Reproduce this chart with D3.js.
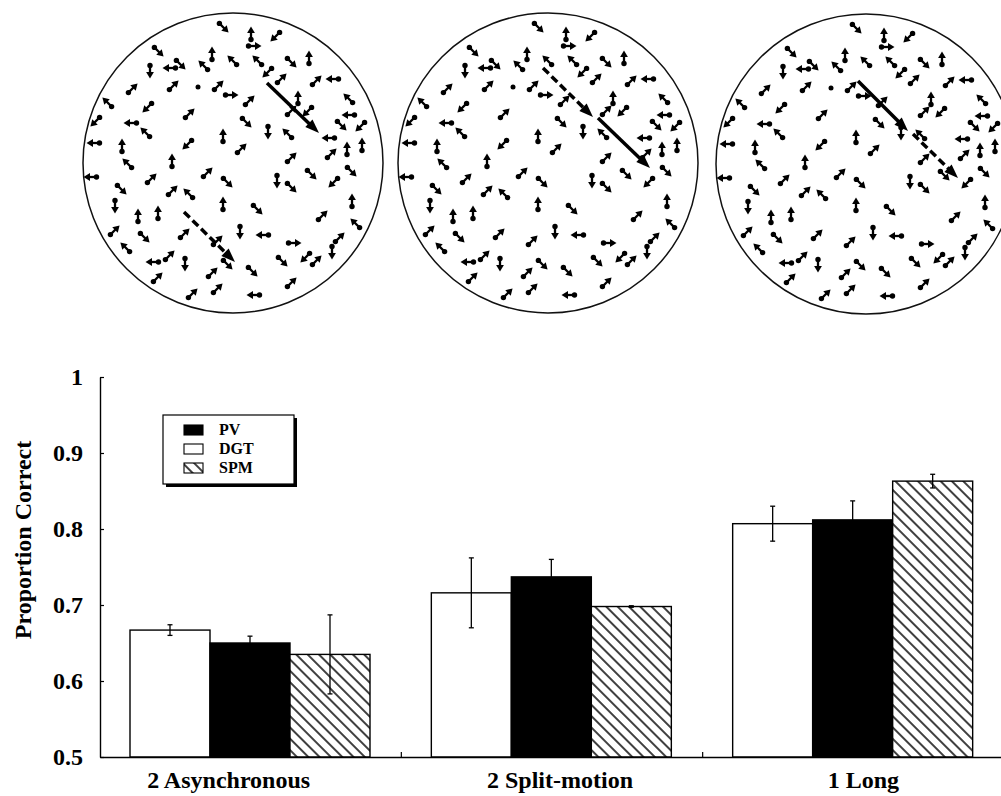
<!DOCTYPE html>
<html><head><meta charset="utf-8">
<script src="https://cdn.jsdelivr.net/npm/d3@7"></script>
<style>html,body{margin:0;padding:0;background:#fff;overflow:hidden}</style>
</head><body>
<svg id="chart" width="1001" height="796" xmlns="http://www.w3.org/2000/svg"></svg>
<script>
// ---------------- data ----------------
const categories = ["2 Asynchronous", "2 Split-motion", "1 Long"];
const barSeries = ["DGT", "PV", "SPM"];      // order of bars inside each group
const legendSeries = ["PV", "DGT", "SPM"];   // order in the legend
const pvValues  = [0.650, 0.737, 0.812];
const dgtValues = [0.667, 0.716, 0.807];
const spmValues = [0.635, 0.698, 0.863];
const pvErrors  = [0.009, 0.023, 0.025];
const dgtErrors = [0.007, 0.046, 0.023];
const spmErrors = [0.052, 0.001, 0.009];
const yTicks = [0.5, 0.6, 0.7, 0.8, 0.9, 1];
const yTickLabels = ["0.5", "0.6", "0.7", "0.8", "0.9", "1"];
const yTitle = "Proportion Correct";

// stimulus display: small dot-arrows [x, y, direction], circle units (radius 150)
const fieldArrows = [
  [-9,-135,"SE"],[18,-130,"N"],[42,-126,"SW"],[22,-117,"E"],[-74,-111,"SE"],[-21,-110,"N"],
  [-1,-103,"NW"],[24,-103,"NW"],[59,-100,"SE"],[76,-106,"N"],[-83,-91,"S"],[-64,-95,"W"],
  [-52,-98,"SE"],[-30,-98,"NW"],[34,-90,"SW"],[49,-85,"NE"],[84,-83,"NE"],[99,-84,"W"],
  [-100,-75,"NE"],[-59,-78,"NE"],[-35,-76,"dot"],[-14,-78,"NE"],[-1,-68,"E"],[17,-63,"NE"],
  [65,-66,"N"],[115,-65,"NW"],[-126,-61,"NW"],[-86,-55,"SW"],[-43,-50,"NE"],[59,-53,"NE"],
  [74,-51,"SW"],[115,-48,"W"],[-138,-41,"SW"],[-103,-40,"W"],[-88,-31,"NW"],[14,-40,"SE"],
  [35,-30,"S"],[54,-30,"NW"],[109,-37,"SE"],[127,-36,"SW"],[-140,-20,"W"],[-111,-18,"N"],
  [-46,-18,"SW"],[-10,-28,"N"],[9,-15,"NE"],[95,-25,"W"],[114,-15,"N"],[129,-19,"N"],
  [-61,-3,"N"],[-106,0,"NW"],[59,-6,"NE"],[99,-10,"NE"],[-143,14,"W"],[-81,15,"NE"],
  [-25,9,"NE"],[-5,20,"SE"],[44,19,"S"],[59,25,"SE"],[79,12,"SE"],[100,20,"SW"],
  [119,9,"SE"],[-111,27,"SE"],[-60,27,"NE"],[-45,30,"NW"],[-118,44,"S"],[-95,52,"N"],
  [-75,49,"N"],[-10,40,"N"],[25,47,"SE"],[90,52,"NE"],[119,37,"N"],[-118,67,"NE"],
  [-108,84,"NW"],[-88,75,"SE"],[-48,70,"NE"],[-15,77,"NE"],[7,70,"S"],[29,72,"W"],
  [62,80,"E"],[107,74,"NE"],[122,60,"NW"],[-81,99,"W"],[-63,92,"NE"],[-48,102,"S"],
  [-20,109,"NE"],[-5,102,"SE"],[20,109,"SE"],[50,99,"SE"],[72,95,"SW"],[84,97,"NE"],
  [99,90,"S"],[-75,114,"NE"],[-40,130,"NE"],[-15,125,"NE"],[20,132,"W"],[59,119,"NE"]
];
// long target arrows per panel: [x1, y1, x2, y2, dashed]
const panel1Targets = [[34,-80,86,-30,false],[-49,49,2,99,true]];
const panel2Targets = [[-5,-95,45,-46,true],[50,-45,102,5,false]];
const panel3Targets = [[-8,-83,42,-33,false],[47,-30,92,14,true]];

// ---------------- drawing ----------------
const svg = d3.select("#chart");
const FONT = "'Liberation Serif','Times New Roman',serif";

const defs = svg.append("defs");
defs.append("pattern").attr("id","hatch").attr("patternUnits","userSpaceOnUse")
  .attr("width",8).attr("height",8).attr("patternTransform","rotate(-45)")
  .call(p => {
    p.append("rect").attr("width",8).attr("height",8).attr("fill","#fff");
    p.append("line").attr("x1",4).attr("y1",-1).attr("x2",4).attr("y2",9)
      .attr("stroke","#000").attr("stroke-width",1.5);
  });

// ---- stimulus panels ----
const panels = [
  {cx: 233, cy: 163, targets: panel1Targets},
  {cx: 548, cy: 163, targets: panel2Targets},
  {cx: 866, cy: 164, targets: panel3Targets}
];
const R = 150;
const dirAngle = {E:0, SE:45, S:90, SW:135, W:180, NW:225, N:270, NE:315};

panels.forEach(pn => {
  const sx = d3.scaleLinear().domain([-150,150]).range([pn.cx - R, pn.cx + R]);
  const sy = d3.scaleLinear().domain([-150,150]).range([pn.cy - R, pn.cy + R]);
  const g = svg.append("g");
  g.append("circle").attr("cx", sx(0)).attr("cy", sy(0)).attr("r", R)
    .attr("fill","none").attr("stroke","#111").attr("stroke-width",1.5);

  fieldArrows.forEach(([x, y, dir]) => {
    const cx = sx(x), cy = sy(y);
    if (dir === "dot") {
      g.append("circle").attr("cx",cx).attr("cy",cy).attr("r",2.5).attr("fill","#000");
      return;
    }
    const a = dirAngle[dir] * Math.PI / 180, L = 13;
    const ux = Math.cos(a), uy = Math.sin(a);
    const tx = cx - ux*L/2, ty = cy - uy*L/2;
    const hx = cx + ux*L/2, hy = cy + uy*L/2;
    const hl = 6.5, hw = 3.9;
    const bx = hx - ux*hl, by = hy - uy*hl;
    g.append("circle").attr("cx",tx).attr("cy",ty).attr("r",2.7).attr("fill","#000");
    g.append("line").attr("x1",tx).attr("y1",ty).attr("x2",bx+ux).attr("y2",by+uy)
      .attr("stroke","#000").attr("stroke-width",2.3);
    g.append("path").attr("d",`M${hx},${hy}L${bx-uy*hw},${by+ux*hw}L${bx+uy*hw},${by-ux*hw}Z`)
      .attr("fill","#000");
  });

  pn.targets.forEach(([x1,y1,x2,y2,dashed]) => {
    const X1 = sx(x1), Y1 = sy(y1), X2 = sx(x2), Y2 = sy(y2);
    const len = Math.hypot(X2-X1, Y2-Y1);
    const ux = (X2-X1)/len, uy = (Y2-Y1)/len;
    const hl = 14, hw = 5.2;
    const bx = X2 - ux*hl, by = Y2 - uy*hl;
    g.append("line").attr("x1",X1).attr("y1",Y1).attr("x2",bx+ux*2).attr("y2",by+uy*2)
      .attr("stroke","#000").attr("stroke-width",3.5)
      .attr("stroke-dasharray", dashed ? "8,4" : null);
    g.append("path").attr("d",`M${X2},${Y2}L${bx-uy*hw},${by+ux*hw}L${bx+uy*hw},${by-ux*hw}Z`)
      .attr("fill","#000");
  });
});

// ---- bar chart ----
const y = d3.scaleLinear().domain([0.5, 1]).range([757, 377]);
const x0 = d3.scaleBand().domain(categories).range([100, 1004]).padding(0);
const x1 = d3.scaleBand().domain(barSeries).range([30, 270]).padding(0);

const valuesBy = {PV: pvValues, DGT: dgtValues, SPM: spmValues};
const errorsBy = {PV: pvErrors, DGT: dgtErrors, SPM: spmErrors};
const fillBy = {PV: "#000", DGT: "#fff", SPM: "url(#hatch)"};

const chart = svg.append("g");

categories.forEach((cat, ci) => {
  const gg = chart.append("g").attr("transform", `translate(${x0(cat)},0)`);
  barSeries.forEach(s => {
    const v = valuesBy[s][ci];
    gg.append("rect").attr("x", x1(s)).attr("y", y(v))
      .attr("width", x1.bandwidth()).attr("height", y(0.5) - y(v))
      .attr("fill", fillBy[s]).attr("stroke", "#000").attr("stroke-width", 1.4);
  });
  barSeries.forEach(s => {
    const v = valuesBy[s][ci], e = errorsBy[s][ci];
    const cx = x1(s) + x1.bandwidth()/2;
    gg.append("line").attr("x1",cx).attr("x2",cx).attr("y1",y(v+e)).attr("y2",y(v-e))
      .attr("stroke","#000").attr("stroke-width",1.3);
    [v+e, v-e].forEach(t => gg.append("line").attr("x1",cx-2.5).attr("x2",cx+2.5)
      .attr("y1",y(t)).attr("y2",y(t)).attr("stroke","#000").attr("stroke-width",1.3));
  });
});

// y axis
const yAxis = d3.axisLeft(y).tickValues(yTicks)
  .tickFormat((d,i) => yTickLabels[i]).tickSize(-4).tickSizeOuter(0).tickPadding(17);
const yg = svg.append("g").attr("transform","translate(100,0)").call(yAxis);
yg.select(".domain").attr("stroke","#000").attr("stroke-width",1.4);
yg.selectAll(".tick line").attr("stroke","#000").attr("stroke-width",1.2);
yg.selectAll(".tick text").attr("font-family",FONT).attr("font-weight","bold")
  .attr("font-size",24).attr("fill","#000");

// x axis baseline
const xAxis = d3.axisBottom(x0).tickSize(0).tickSizeOuter(0).tickFormat("");
const xg = svg.append("g").attr("transform",`translate(0,${y(0.5)})`).call(xAxis);
xg.select(".domain").attr("stroke","#000").attr("stroke-width",1.4);
// group boundary ticks
categories.slice(0, -1).forEach(c => {
  const bx = x0(c) + x0.bandwidth();
  svg.append("line").attr("x1",bx).attr("x2",bx).attr("y1",y(0.5)).attr("y2",y(0.5)-5)
    .attr("stroke","#000").attr("stroke-width",1.2);
});
// category labels (small per-label nudge, as typeset in the original figure)
const labelNudge = [-22, 8, 10];
svg.append("g").selectAll("text").data(categories).join("text")
  .attr("x", (d, i) => x0(d) + x0.bandwidth()/2 + labelNudge[i])
  .attr("y", 788)
  .attr("text-anchor","middle")
  .attr("font-family",FONT).attr("font-weight","bold").attr("font-size",24)
  .text(d => d);

// y title
svg.append("text")
  .attr("transform","translate(31,540) rotate(-90)")
  .attr("text-anchor","middle")
  .attr("font-family",FONT).attr("font-weight","bold").attr("font-size",24)
  .text(yTitle);

// legend
const lg = svg.append("g").attr("transform","translate(163,415)");
lg.append("rect").attr("x",3).attr("y",3).attr("width",131).attr("height",69).attr("fill","#000");
lg.append("rect").attr("x",0).attr("y",0).attr("width",131).attr("height",69)
  .attr("fill","#fff").attr("stroke","#000").attr("stroke-width",1.2);
legendSeries.forEach((s, i) => {
  const yy = 10 + i*19;
  lg.append("rect").attr("x",21).attr("y",yy).attr("width",19).attr("height",10)
    .attr("fill",fillBy[s]).attr("stroke","#000").attr("stroke-width",1.1);
  lg.append("text").attr("x",56).attr("y",yy+10)
    .attr("font-family",FONT).attr("font-weight","bold").attr("font-size",16)
    .text(s);
});
</script>
</body></html>
